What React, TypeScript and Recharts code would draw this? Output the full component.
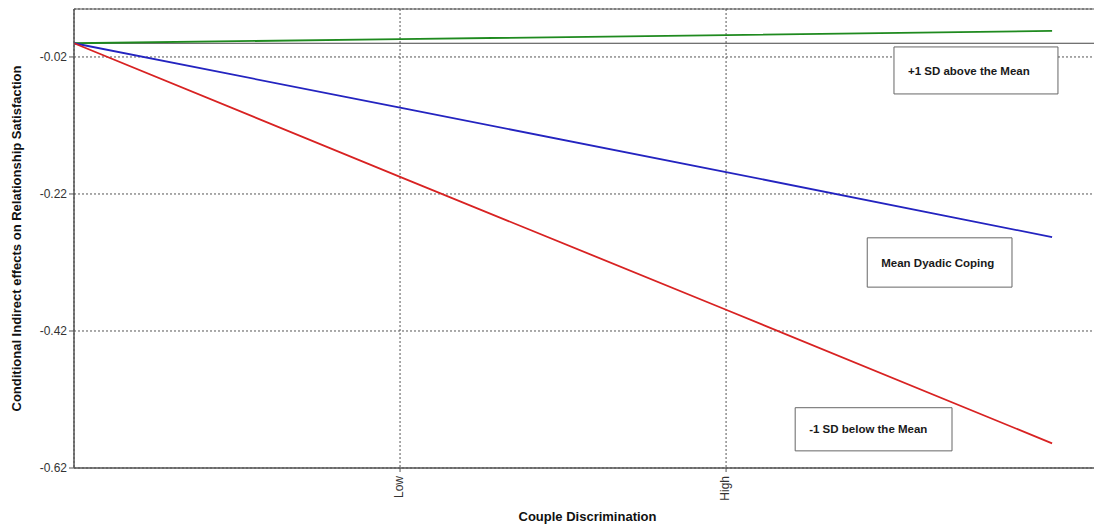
import React from "react";
import {
  LineChart,
  Line,
  XAxis,
  YAxis,
  CartesianGrid,
  ReferenceLine,
  ReferenceArea,
} from "recharts";

// x positions: 0 = start, 1 = Low, 2 = High, 3 = end of lines
const xs = [0, 1, 2, 3];
const plusOneSD = [0, 0.006, 0.012, 0.018];
const meanCoping = [0, -0.094, -0.188, -0.283];
const minusOneSD = [0, -0.195, -0.389, -0.584];

const xTicks = [1, 2];
const xTickLabels = ["Low", "High"];
const yTicks = [-0.62, -0.42, -0.22, -0.02];

const data = xs.map((x, i) => ({
  x,
  plus: plusOneSD[i],
  mean: meanCoping[i],
  minus: minusOneSD[i],
}));

const boxLabel = (value: string) => ({
  value,
  position: "insideLeft" as const,
  offset: 14,
  fontSize: 11.5,
  fontWeight: "bold",
  fill: "#1a1a1a",
});

export default function App() {
  return (
    <div
      style={{
        position: "fixed",
        top: 0,
        left: 0,
        width: 1094,
        height: 529,
        overflow: "hidden",
        background: "#fff",
        fontFamily: "'Liberation Sans', Arial, sans-serif",
      }}
    >
      <LineChart
        width={1110}
        height={529}
        data={data}
        margin={{ top: 9, right: 9, left: 0, bottom: 0 }}
      >
        <CartesianGrid stroke="#555" strokeDasharray="2 2" />
        <XAxis
          dataKey="x"
          type="number"
          domain={[0, 3.15]}
          ticks={xTicks}
          tickFormatter={(v) => xTickLabels[xTicks.indexOf(v)] ?? ""}
          interval={0}
          angle={-90}
          textAnchor="end"
          tick={{ fontSize: 12, fill: "#333", dx: -6 }}
          tickSize={4}
          tickMargin={4}
          stroke="#555"
          height={61}
          label={{
            value: "Couple Discrimination",
            position: "insideBottom",
            offset: 8,
            fontSize: 13,
            fontWeight: "bold",
            fill: "#111",
          }}
        />
        <YAxis
          type="number"
          domain={[-0.62, 0.05]}
          ticks={yTicks}
          interval={0}
          tickFormatter={(v) => v.toFixed(2)}
          tick={{ fontSize: 12, fill: "#333" }}
          tickSize={5}
          tickMargin={2}
          stroke="#555"
          width={74}
          allowDataOverflow
          label={{
            value: "Conditional Indirect effects on Relationship Satisfaction",
            angle: -90,
            position: "insideLeft",
            offset: 16,
            fontSize: 13,
            fontWeight: "bold",
            fill: "#111",
            style: { textAnchor: "middle" },
          }}
        />
        <ReferenceLine y={0.05} stroke="#555" strokeWidth={1} />
        <ReferenceLine y={-0.62} stroke="#555" strokeWidth={1} />
        <ReferenceLine x={0} stroke="#555" strokeWidth={1} />
        <ReferenceLine y={0} stroke="#444" strokeWidth={1} />
        <Line
          dataKey="plus"
          stroke="#1f8a1f"
          strokeWidth={1.8}
          dot={false}
          type="linear"
          isAnimationActive={false}
        />
        <Line
          dataKey="mean"
          stroke="#2424c0"
          strokeWidth={1.8}
          dot={false}
          type="linear"
          isAnimationActive={false}
        />
        <Line
          dataKey="minus"
          stroke="#d82222"
          strokeWidth={1.8}
          dot={false}
          type="linear"
          isAnimationActive={false}
        />
        <ReferenceArea
          x1={2.515}
          x2={3.018}
          y1={-0.074}
          y2={-0.0054}
          fill="#fff"
          fillOpacity={1}
          stroke="#666"
          strokeWidth={1}
          label={boxLabel("+1 SD above the Mean")}
        />
        <ReferenceArea
          x1={2.433}
          x2={2.877}
          y1={-0.356}
          y2={-0.284}
          fill="#fff"
          fillOpacity={1}
          stroke="#666"
          strokeWidth={1}
          label={boxLabel("Mean Dyadic Coping")}
        />
        <ReferenceArea
          x1={2.212}
          x2={2.693}
          y1={-0.595}
          y2={-0.532}
          fill="#fff"
          fillOpacity={1}
          stroke="#666"
          strokeWidth={1}
          label={boxLabel("-1 SD below the Mean")}
        />
      </LineChart>
    </div>
  );
}
